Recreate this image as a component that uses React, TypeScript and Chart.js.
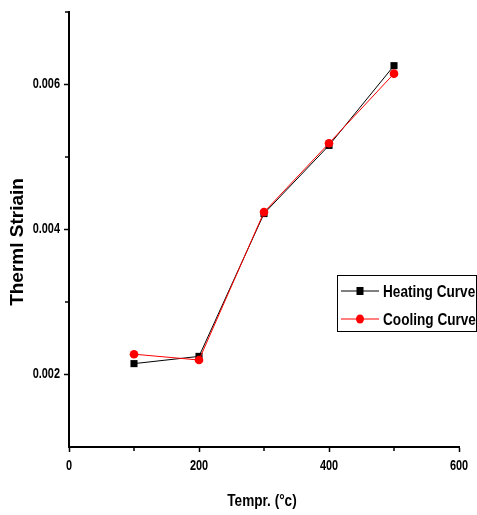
import React, { useEffect, useRef } from "react";
import { Chart, registerables } from "chart.js";

Chart.register(...registerables);

const temps = [100, 200, 300, 400, 500];
const heating = [0.00215, 0.00225, 0.00422, 0.00516, 0.00626];
const cooling = [0.00228, 0.0022, 0.00424, 0.00519, 0.00615];
const seriesNames = ["Heating Curve", "Cooling Curve"];
const xMajorTicks = [0, 200, 400, 600];
const xMinorTicks = [100, 300, 500];
const yMajorTicks = [0.002, 0.004, 0.006];
const yMinorTicks = [0.003, 0.005, 0.007];
const yTickLabels = ["0.002", "0.004", "0.006"];
const xTickLabels = ["0", "200", "400", "600"];
const xTitle = "Tempr. (°c)";
const yTitle = "Therml Striain";

const SANS = "'Liberation Sans', Arial, sans-serif";

function narrowText(ctx: any, text: string, x: number, y: number, size: number, sx: number, align: string) {
  ctx.save();
  ctx.font = `bold ${size}px ${SANS}`;
  ctx.textBaseline = "middle";
  const w = ctx.measureText(text).width * sx;
  let left = x;
  if (align === "center") left = x - w / 2;
  else if (align === "right") left = x - w;
  ctx.translate(left, y);
  ctx.scale(sx, 1);
  ctx.textAlign = "left";
  ctx.fillStyle = "#000";
  ctx.fillText(text, 0, 0);
  ctx.restore();
}

const textPlugin = {
  id: "texts",
  afterDraw(chart: any) {
    const ctx = chart.ctx;
    const xs = chart.scales.x;
    const ys = chart.scales.y;
    ctx.save();
    ctx.strokeStyle = "#000";
    ctx.lineWidth = 1.5;
    ctx.beginPath();
    xMinorTicks.forEach((v) => {
      const px = xs.getPixelForValue(v);
      ctx.moveTo(px, ys.bottom);
      ctx.lineTo(px, ys.bottom + 4);
    });
    yMinorTicks.forEach((v) => {
      const py = ys.getPixelForValue(v);
      ctx.moveTo(xs.left, py);
      ctx.lineTo(xs.left - 4, py);
    });
    ctx.stroke();
    ctx.restore();

    yMajorTicks.forEach((v, i) => {
      narrowText(ctx, yTickLabels[i], xs.left - 9, ys.getPixelForValue(v), 14, 0.78, "right");
    });
    xMajorTicks.forEach((v, i) => {
      narrowText(ctx, xTickLabels[i], xs.getPixelForValue(v), ys.bottom + 19, 14, 0.78, "center");
    });
    narrowText(ctx, xTitle, (xs.left + xs.right) / 2 - 2, 501, 17, 0.8, "center");

    ctx.save();
    ctx.translate(18, 242);
    ctx.rotate(-Math.PI / 2);
    ctx.font = `bold 19px ${SANS}`;
    ctx.textAlign = "center";
    ctx.textBaseline = "middle";
    ctx.fillStyle = "#000";
    ctx.fillText(yTitle, 0, 0);
    ctx.restore();

    // legend
    ctx.save();
    const bx = 337.5, by = 275.5, bw = 139, bh = 56;
    ctx.fillStyle = "#fff";
    ctx.fillRect(bx, by, bw, bh);
    ctx.strokeStyle = "#000";
    ctx.lineWidth = 1;
    ctx.strokeRect(bx, by, bw, bh);
    const rows = [291, 319];
    chart.data.datasets.forEach((ds: any, i: number) => {
      const y = rows[i];
      ctx.strokeStyle = ds.borderColor;
      ctx.lineWidth = 1;
      ctx.beginPath();
      ctx.moveTo(341, y);
      ctx.lineTo(379, y);
      ctx.stroke();
      ctx.fillStyle = ds.pointBackgroundColor;
      if (ds.pointStyle === "rect") {
        ctx.fillRect(356.5, y - 4, 7, 8);
      } else {
        ctx.beginPath();
        ctx.ellipse(360, y, 4, 4.5, 0, 0, Math.PI * 2);
        ctx.fill();
      }
      narrowText(ctx, ds.label, 383, y + 1, 17, 0.8, "left");
    });
    ctx.restore();
  },
};

export default function App() {
  const ref = useRef<HTMLCanvasElement>(null);
  useEffect(() => {
    if (!ref.current) return;
    const chart = new Chart(ref.current, {
      type: "line",
      data: {
        datasets: [
          {
            label: seriesNames[0],
            data: temps.map((t, i) => ({ x: t, y: heating[i] })),
            borderColor: "#000",
            backgroundColor: "#000",
            pointBackgroundColor: "#000",
            pointBorderColor: "#000",
            pointStyle: "rect",
            pointRadius: 5,
            pointBorderWidth: 0,
            borderWidth: 1,
            order: 2,
          },
          {
            label: seriesNames[1],
            data: temps.map((t, i) => ({ x: t, y: cooling[i] })),
            borderColor: "#ff0000",
            backgroundColor: "#ff0000",
            pointBackgroundColor: "#ff0000",
            pointBorderColor: "#ff0000",
            pointStyle: "circle",
            pointRadius: 4.3,
            pointBorderWidth: 0,
            borderWidth: 1,
            order: 1,
          },
        ],
      },
      options: {
        responsive: false,
        animation: false,
        layout: { padding: { top: 12, right: 18, left: 0, bottom: 0 } },
        plugins: {
          legend: { display: false },
          tooltip: { enabled: false },
        },
        scales: {
          x: {
            type: "linear",
            min: 0,
            max: 600,
            afterBuildTicks: (s: any) => {
              s.ticks = xMajorTicks.map((v) => ({ value: v }));
            },
            afterFit: (s: any) => {
              s.height = 68;
            },
            ticks: { display: false },
            grid: {
              drawOnChartArea: false,
              drawTicks: true,
              tickLength: 5,
              tickColor: "#000",
              tickWidth: 1.5,
            },
            border: { display: true, color: "#000", width: 2 },
          },
          y: {
            type: "linear",
            min: 0.001,
            max: 0.007,
            afterBuildTicks: (s: any) => {
              s.ticks = yMajorTicks.map((v) => ({ value: v }));
            },
            afterFit: (s: any) => {
              s.width = 69;
            },
            ticks: { display: false },
            grid: {
              drawOnChartArea: false,
              drawTicks: true,
              tickLength: 5,
              tickColor: "#000",
              tickWidth: 1.5,
            },
            border: { display: true, color: "#000", width: 2 },
          },
        },
      },
      plugins: [textPlugin],
    } as any);
    return () => chart.destroy();
  }, []);
  return (
    <div style={{ position: "absolute", left: 0, top: 0, width: 477, height: 515, background: "#fff" }}>
      <canvas ref={ref} width={477} height={515} />
    </div>
  );
}
